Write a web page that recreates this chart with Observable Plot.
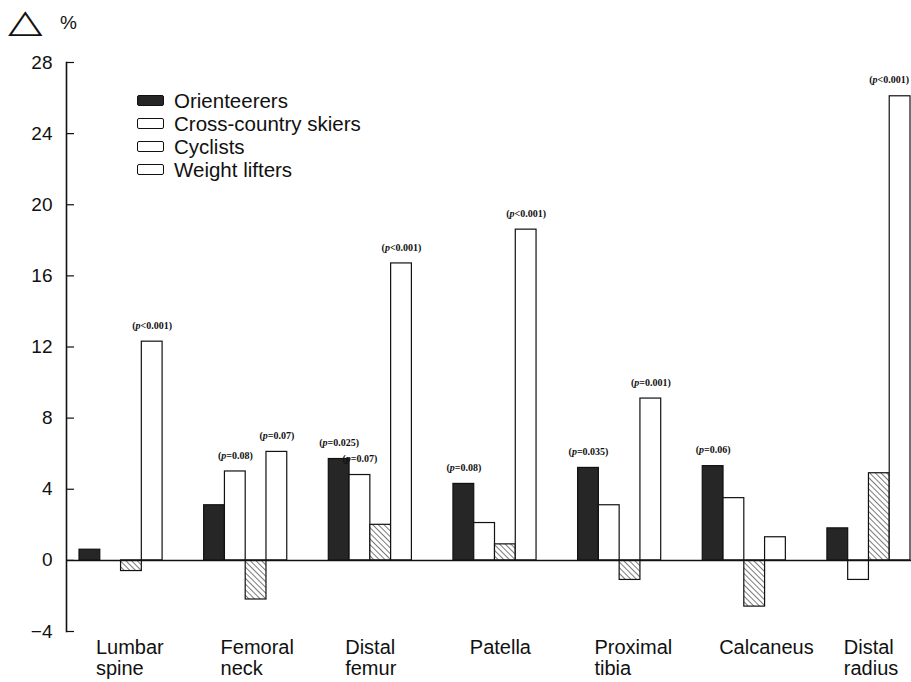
<!DOCTYPE html>
<html><head><meta charset="utf-8">
<script src="https://cdn.jsdelivr.net/npm/d3@7"></script>
<script src="https://cdn.jsdelivr.net/npm/@observablehq/plot@0.6"></script>
<style>
body{margin:0;background:#fff;font-family:"Liberation Sans",Arial,sans-serif;color:#111;}
#wrap{position:relative;width:911px;height:682px;overflow:hidden;}
#delta{position:absolute;left:8px;top:-5px;font-family:"DejaVu Sans";font-size:45px;line-height:50px;transform:scale(1,0.72);transform-origin:0 30px;}
#pct{position:absolute;left:60px;top:12px;font-size:19px;line-height:22px;}
#legend{position:absolute;left:137px;top:89px;font-size:20.5px;}
#legend div{height:23px;line-height:23px;white-space:nowrap;}
#legend span.sw{display:inline-block;width:25px;height:9px;border:1.4px solid #111;border-radius:2px;margin-right:10px;vertical-align:middle;position:relative;top:-2px;background:#fff;}
</style></head><body>
<div id="wrap"><div id="chart"></div>
<div id="delta">△</div><div id="pct">%</div>
<div id="legend"></div>
</div>
<script>
const sites = ["Lumbar\nspine","Femoral\nneck","Distal\nfemur","Patella","Proximal\ntibia","Calcaneus","Distal\nradius"];
const groups = ["Orienteerers","Cross-country skiers","Cyclists","Weight lifters"];
const orienteerers = [0.6, 3.1, 5.7, 4.3, 5.2, 5.3, 1.8];
const skiers       = [0.0, 5.0, 4.8, 2.1, 3.1, 3.5, -1.1];
const cyclists     = [-0.6, -2.2, 2.0, 0.9, -1.1, -2.6, 4.9];
const lifters      = [12.3, 6.1, 16.7, 18.6, 9.1, 1.3, 26.1];
const pOrienteerers = [null, null, "(p=0.025)", "(p=0.08)", "(p=0.035)", "(p=0.06)", null];
const pSkiers       = [null, "(p=0.08)", "(p=0.07)", null, null, null, null];
const pCyclists     = [null, null, null, null, null, null, null];
const pLifters      = ["(p<0.001)", "(p=0.07)", "(p<0.001)", "(p<0.001)", "(p=0.001)", null, "(p<0.001)"];
const yTicks = [-4, 0, 4, 8, 12, 16, 20, 24, 28];

const series = [orienteerers, skiers, cyclists, lifters];
const pvals = [pOrienteerers, pSkiers, pCyclists, pLifters];
const fills = ["#262626", "#fff", "url(#hatch)", "#fff"];
const legendFills = ["#262626", "#fff", "#fff", "#fff"];

const rows = [];
sites.forEach((s, i) => groups.forEach((g, j) => rows.push({site: s, group: g, si: i, gi: j, key: `${i}:${j}`, value: series[j][i], p: pvals[j][i]})));
const domain = [];
sites.forEach((s, i) => {
  groups.forEach((g, j) => domain.push(`${i}:${j}`));
  if (i < sites.length - 1) domain.push(`gap${i}a`, `gap${i}b`);
});
const lastKey = domain[domain.length - 1];

const W = 911, H = 682, ML = 66, MR = 0, TICK = 8;

const chart = Plot.plot({
  width: W, height: H,
  marginLeft: ML, marginRight: MR, marginTop: 62, marginBottom: 51,
  style: {fontFamily: "Liberation Sans, Arial, sans-serif", color: "#111", background: "transparent"},
  x: {type: "band", domain, range: [79, 910], padding: 0, axis: null},
  y: {domain: [-4, 28]},
  marks: [
    ...groups.map((g, j) => Plot.barY(rows.filter(d => d.gi === j), {
      x: "key", y: "value", fill: fills[j], stroke: "#111", strokeWidth: 1.2
    })),
    Plot.ruleY([0], {stroke: "#111", strokeWidth: 1.5}),
    Plot.frame({anchor: "left", stroke: "#111", strokeWidth: 1.6}),
    Plot.tickY(yTicks, {y: d => d, insetRight: W - ML - MR - TICK, stroke: "#111", strokeWidth: 1.2}),
    Plot.axisY({ticks: yTicks, tickSize: 0, tickPadding: 14, fontSize: 19, label: null, tickFormat: d => d < 0 ? "−" + Math.abs(d) : String(d)}),
    Plot.text(rows.filter(d => d.p && d.key !== lastKey), {
      x: "key", y: "value", text: "p", dy: -16,
      fontSize: 10, fontWeight: "bold", fontFamily: "Liberation Serif, serif"
    }),
    Plot.text(rows.filter(d => d.p && d.key === lastKey), {
      x: "key", y: "value", text: "p", dy: -16, dx: 9, textAnchor: "end",
      fontSize: 10, fontWeight: "bold", fontFamily: "Liberation Serif, serif"
    }),
    Plot.text(sites, {
      x: (d, i) => `${i}:0`, text: d => d, frameAnchor: "bottom",
      textAnchor: "start", lineAnchor: "top", dx: 6, dy: 8, fontSize: 20, lineHeight: 1.05
    })
  ]
});

d3.select(chart).insert("defs", ":first-child").html(
  `<pattern id="hatch" patternUnits="userSpaceOnUse" width="4" height="4" patternTransform="rotate(-45)">
     <rect width="4" height="4" fill="#fff"/>
     <line x1="0" y1="0" x2="0" y2="4" stroke="#333" stroke-width="1.3"/>
   </pattern>`);

d3.select(chart).selectAll("text").each(function() {
  const t = this.textContent;
  if (/^\(p[<=]/.test(t) && this.childElementCount === 0) {
    const sel = d3.select(this);
    sel.text(null);
    sel.append("tspan").text("(");
    sel.append("tspan").attr("font-style", "italic").text("p");
    sel.append("tspan").text(t.slice(2));
  }
});

document.getElementById("chart").appendChild(chart);

const leg = d3.select("#legend");
groups.forEach((g, j) => {
  const row = leg.append("div");
  row.append("span").attr("class", "sw").style("background", legendFills[j]);
  row.append("span").text(g);
});
</script>
</body></html>
